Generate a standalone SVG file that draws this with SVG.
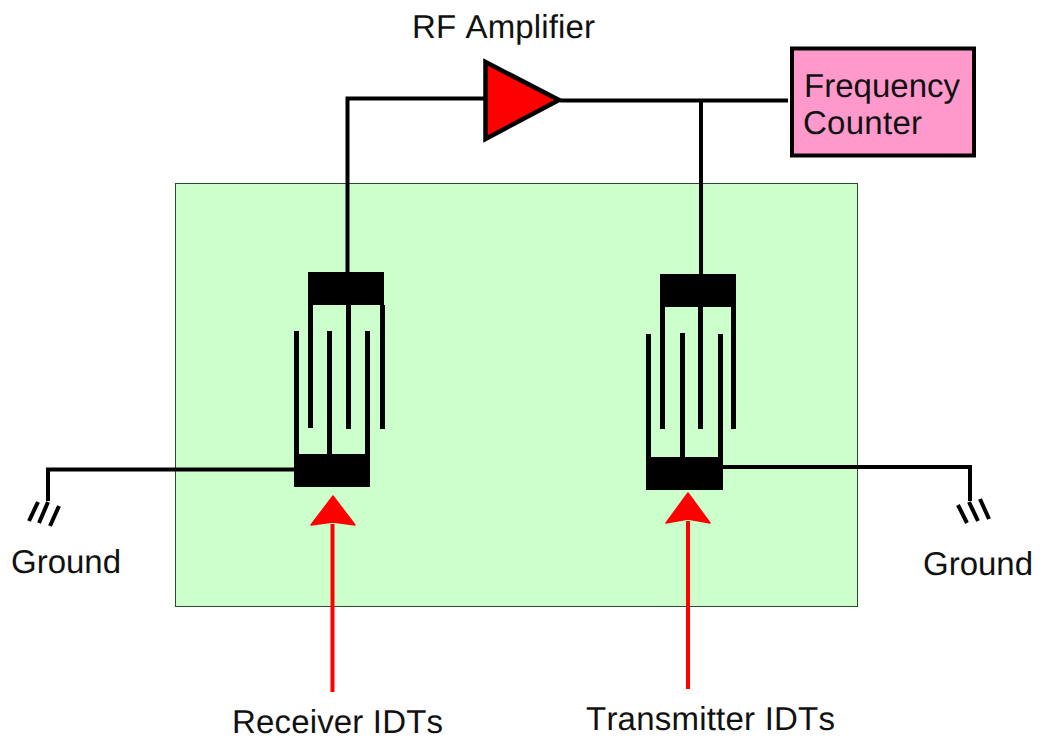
<svg xmlns="http://www.w3.org/2000/svg" width="1040" height="743" viewBox="0 0 1040 743">
<style>
text{font-family:"Liberation Sans",Arial,sans-serif;font-size:33px;fill:#111;font-kerning:none;text-rendering:geometricPrecision}
.w{fill:none;stroke:#000;stroke-width:4}
.h{fill:none;stroke:#000;stroke-width:4}
.b{fill:#000}
.a{fill:#f00;stroke:#f00;stroke-width:1.5;stroke-linejoin:round}
.s{fill:none;stroke:#f00;stroke-width:4}
</style>
<rect width="1040" height="743" fill="#fff"/>
<g id="substrate"><rect x="175.500" y="183.500" width="682" height="423" fill="#CCFFCC" stroke="#2c4a2c" stroke-width="1"/></g>
<g id="connectors">
<path class="w" d="M347.500 272V98.500H485"/>
<path class="w" d="M560 100.500H788"/>
<path class="w" d="M701 100.500V274"/>
<path class="w" d="M294 469.500H48V501"/>
<path class="w" d="M723 467H970V501"/>
<path class="s" d="M332.500 524V692"/>
<path class="s" d="M688 521V689"/>
</g>
<g id="amplifier"><polygon points="485.500,62 485.500,139 559,100" fill="#f00" stroke="#000" stroke-width="4.500" stroke-linejoin="miter"/><text x="412" y="38" textLength="183">RF Amplifier</text></g>
<g id="counter"><rect x="792" y="48.500" width="182" height="107" fill="#FF99CC" stroke="#000" stroke-width="4"/><text x="804" y="97" textLength="156">Frequency</text><text x="803" y="134" textLength="119">Counter</text></g>
<g id="receiver-idt">
<rect class="b" x="308" y="272" width="76" height="33"/>
<rect class="b" x="308" y="305" width="5" height="123"/><rect class="b" x="346" y="305" width="5" height="124"/><rect class="b" x="380" y="305" width="5" height="124"/>
<rect class="b" x="294" y="454" width="76" height="33"/>
<rect class="b" x="294" y="331" width="5" height="123"/><rect class="b" x="327" y="331" width="5" height="123"/><rect class="b" x="365" y="331" width="5" height="123"/>
</g>
<g id="transmitter-idt">
<rect class="b" x="660" y="274" width="76" height="33"/>
<rect class="b" x="660" y="307" width="5" height="122"/><rect class="b" x="698" y="307" width="5" height="122"/><rect class="b" x="731" y="307" width="5" height="122"/>
<rect class="b" x="646" y="457" width="77" height="33"/>
<rect class="b" x="646" y="334" width="5" height="123"/><rect class="b" x="680" y="333" width="5" height="124"/><rect class="b" x="718" y="334" width="5" height="123"/>
</g>
<g id="receiver-label"><polygon class="a" points="333,496 355,525 333,522 311,525"/><text x="232" y="733" textLength="211">Receiver IDTs</text></g>
<g id="transmitter-label"><polygon class="a" points="688,493 710,523 688,519 666,523"/><text x="586" y="730" textLength="249">Transmitter IDTs</text></g>
<g id="ground-left"><path class="h" d="M38 502L29 521M48 502L39 523M59 506L50 526"/><text x="11" y="573" textLength="110">Ground</text></g>
<g id="ground-right"><path class="h" d="M958 505L967 523M969 502L978 521M980 499L989 519"/><text x="923" y="575" textLength="110">Ground</text></g>
</svg>
